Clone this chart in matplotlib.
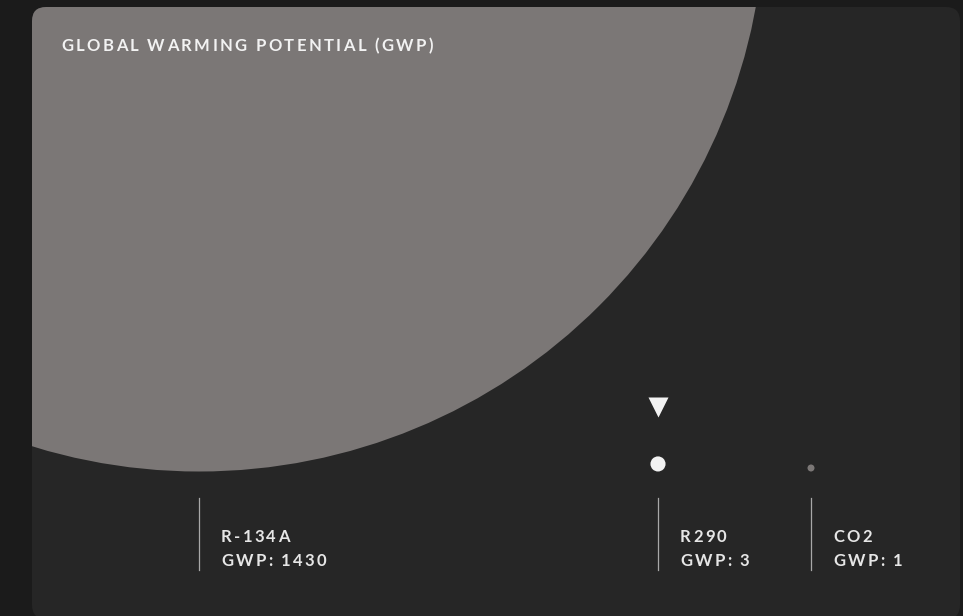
import matplotlib
matplotlib.use("Agg")
import matplotlib.pyplot as plt
from matplotlib.patches import Circle, FancyBboxPatch
from matplotlib.font_manager import FontProperties, findfont, get_font

# data
refrigerants = ["R-134A", "R290", "CO2"]
gwp = [1430, 3, 1]
chosen = "R290"
title = "GLOBAL WARMING POTENTIAL (GWP)"

# layout (pixels)
W, H = 963, 616
bubble_x = [199, 658, 811]
base_y = 471.5          # bubbles sit on this line
bg = "#1b1b1b"
card_col = "#262626"
grey = "#7b7776"
white = "#f2f2f2"

fig = plt.figure(figsize=(W / 100, H / 100), dpi=100, facecolor=bg)
ax = fig.add_axes([0, 0, 1, 1])
ax.set_xlim(0, W)
ax.set_ylim(H, 0)
ax.axis("off")

card = FancyBboxPatch((32, 7), 928, 612, boxstyle="round,pad=0,rounding_size=14",
                      facecolor=card_col, edgecolor="none", zorder=1)
ax.add_patch(card)


def spaced_text(x, y, s, size, track, color):
    fp = FontProperties(family=["Lato", "DejaVu Sans"], weight="bold", size=size)
    font = get_font(findfont(fp))
    font.set_size(size, 100)
    pos = x
    for ch in s:
        if ch != " ":
            ax.text(pos, y, ch, fontproperties=fp, color=color,
                    ha="left", va="baseline", zorder=5)
        g = font.load_char(ord(ch))
        pos += g.linearHoriAdvance / 65536 + track


for name, g, x in zip(refrigerants, gwp, bubble_x):
    r = 3.5 * g ** 0.7
    col = white if name == chosen else grey
    c = Circle((x, base_y - r), r, facecolor=col, edgecolor="none", zorder=2)
    ax.add_patch(c)
    c.set_clip_path(card)
    ax.plot([x, x], [498, 570], color="#a8a8a8", lw=0.9, zorder=3)
    spaced_text(x + 22, 542, name, 12, 2.3, "#e6e6e6")
    spaced_text(x + 22, 566, "GWP: %d" % g, 12, 2.3, "#e6e6e6")
    if name == chosen:
        ax.plot(x, 407, marker="v", ms=15, color=white, mec="none", zorder=4)

spaced_text(61, 51, title, 12, 2.4, white)

fig.savefig("out.png", dpi=100, facecolor=bg)
